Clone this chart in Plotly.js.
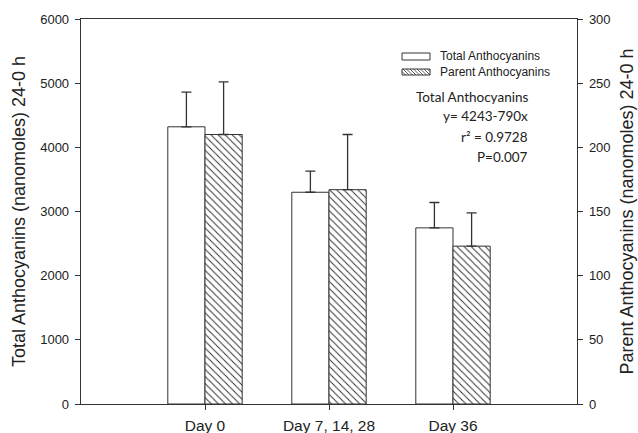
<!DOCTYPE html>
<html>
<head>
<meta charset="utf-8">
<script src="https://cdn.plot.ly/plotly-3.0.1.min.js"></script>
<style>html,body{margin:0;padding:0;background:#fff;}#chart{width:638px;height:433px;}</style>
</head>
<body>
<div id="chart"></div>
<script>
// ---- data ----
var categories = ['Day 0', 'Day 7, 14, 28', 'Day 36'];
var totalValues = [4320, 3300, 2745];
var totalErrors = [540, 330, 395];
var parentValues = [210, 167, 123];
var parentErrors = [41, 43, 26];
var leftTicks = [0, 1000, 2000, 3000, 4000, 5000, 6000];
var rightTicks = [0, 50, 100, 150, 200, 250, 300];

// ---- layout helpers (pixel -> paper) ----
var L = 81, R = 577, T = 19, B = 404;
function px(x) { return (x - L) / (R - L); }
function py(y) { return (B - y) / (B - T); }

var ink = '#333333';
var baseFont = 'Liberation Sans, Arial, sans-serif';
var noteFont = 'Lato, Carlito, Calibri, sans-serif';

var traces = [
  {
    type: 'bar', name: 'Total Anthocyanins',
    x: categories, y: totalValues, xaxis: 'x', yaxis: 'y',
    width: 0.3, offset: -0.3,
    marker: { color: '#ffffff', line: { color: ink, width: 1 } },
    error_y: { type: 'data', symmetric: false, array: totalErrors,
               arrayminus: totalErrors.map(function () { return 0; }),
               color: ink, thickness: 1.3, width: 5 },
    showlegend: false, hoverinfo: 'x+y'
  },
  {
    type: 'bar', name: 'Parent Anthocyanins',
    x: categories, y: parentValues, xaxis: 'x', yaxis: 'y2',
    width: 0.3, offset: 0,
    marker: { color: '#ffffff', line: { color: ink, width: 1 },
              pattern: { shape: '\\', fgcolor: ink, bgcolor: '#ffffff', size: 5, solidity: 0.2 } },
    error_y: { type: 'data', symmetric: false, array: parentErrors,
               arrayminus: parentErrors.map(function () { return 0; }),
               color: ink, thickness: 1.3, width: 5 },
    showlegend: false, hoverinfo: 'x+y'
  }
];

// legend swatches (drawn as shapes)
var shapes = [
  { type: 'rect', xref: 'paper', yref: 'paper', x0: px(402), x1: px(430), y0: py(60), y1: py(53),
    line: { color: ink, width: 1 }, fillcolor: '#ffffff' },
  { type: 'rect', xref: 'paper', yref: 'paper', x0: px(402), x1: px(430), y0: py(75), y1: py(69),
    line: { color: ink, width: 1 }, fillcolor: '#ffffff' }
];
// hatch lines for second swatch
(function () {
  var x0 = 402, x1 = 430, y0 = 69, y1 = 75, h = y1 - y0;
  var d = '';
  for (var s = x0 - h; s < x1; s += 3.5) {
    var ax = s, ay = y0, bx = s + h, by = y1;
    if (ax < x0) { ay = y0 + (x0 - ax); ax = x0; }
    if (bx > x1) { by = y1 - (bx - x1); bx = x1; }
    if (bx <= ax) continue;
    d += 'M' + px(ax) + ',' + py(ay) + 'L' + px(bx) + ',' + py(by);
  }
  shapes.push({ type: 'path', xref: 'paper', yref: 'paper', path: d, line: { color: ink, width: 0.8 } });
})();

var annotations = [
  { xref: 'paper', yref: 'paper', x: px(438), y: py(56.5), xanchor: 'left', yanchor: 'middle',
    text: 'Total Anthocyanins', showarrow: false, font: { family: baseFont, size: 12, color: '#222' } },
  { xref: 'paper', yref: 'paper', x: px(438), y: py(72), xanchor: 'left', yanchor: 'middle',
    text: 'Parent Anthocyanins', showarrow: false, font: { family: baseFont, size: 12, color: '#222' } },
  { xref: 'paper', yref: 'paper', x: px(530), y: py(97), xanchor: 'right', yanchor: 'middle',
    text: 'Total Anthocyanins', showarrow: false, font: { family: noteFont, size: 13.5, color: '#222' } },
  { xref: 'paper', yref: 'paper', x: px(530), y: py(116), xanchor: 'right', yanchor: 'middle',
    text: 'y= 4243-790x', showarrow: false, font: { family: noteFont, size: 13.5, color: '#222' } },
  { xref: 'paper', yref: 'paper', x: px(530), y: py(137), xanchor: 'right', yanchor: 'middle',
    text: 'r\u00B2 = 0.9728', showarrow: false, font: { family: noteFont, size: 13.5, color: '#222' } },
  { xref: 'paper', yref: 'paper', x: px(530), y: py(157), xanchor: 'right', yanchor: 'middle',
    text: 'P=0.007', showarrow: false, font: { family: noteFont, size: 13.5, color: '#222' } }
];

var layout = {
  width: 638, height: 433,
  margin: { l: L, r: 638 - R, t: T, b: 433 - B, pad: 0 },
  paper_bgcolor: '#ffffff', plot_bgcolor: '#ffffff',
  font: { family: baseFont, color: '#222' },
  showlegend: false,
  barmode: 'overlay',
  xaxis: {
    type: 'category', range: [-1, 3], fixedrange: true,
    showline: true, linecolor: ink, linewidth: 1.3, mirror: true,
    ticks: 'outside', ticklen: 5, tickcolor: ink, tickwidth: 1,
    showgrid: false, zeroline: false,
    tickfont: { family: baseFont, size: 15.5, color: '#222' },
    ticklabelstandoff: 2
  },
  yaxis: {
    range: [0, 6000], tickvals: leftTicks, fixedrange: true,
    showline: true, linecolor: ink, linewidth: 1.3,
    ticks: 'outside', ticklen: 5, tickcolor: ink, tickwidth: 1,
    showgrid: false, zeroline: false,
    tickfont: { family: baseFont, size: 13, color: '#222' },
    ticklabelstandoff: 3,
    title: { text: 'Total Anthocyanins (nanomoles) 24-0 h', standoff: 10,
             font: { family: baseFont, size: 18, color: '#222' } }
  },
  yaxis2: {
    overlaying: 'y', side: 'right', anchor: 'x',
    range: [0, 300], tickvals: rightTicks, fixedrange: true,
    showline: true, linecolor: ink, linewidth: 1.3,
    ticks: 'outside', ticklen: 5, tickcolor: ink, tickwidth: 1,
    showgrid: false, zeroline: false,
    tickfont: { family: baseFont, size: 13, color: '#222' },
    ticklabelstandoff: 3,
    title: { text: 'Parent Anthocyanins (nanomoles) 24-0 h', standoff: 10,
             font: { family: baseFont, size: 18, color: '#222' } }
  },
  shapes: shapes,
  annotations: annotations
};

Plotly.newPlot('chart', traces, layout, { displayModeBar: false, staticPlot: true });
</script>
</body>
</html>
